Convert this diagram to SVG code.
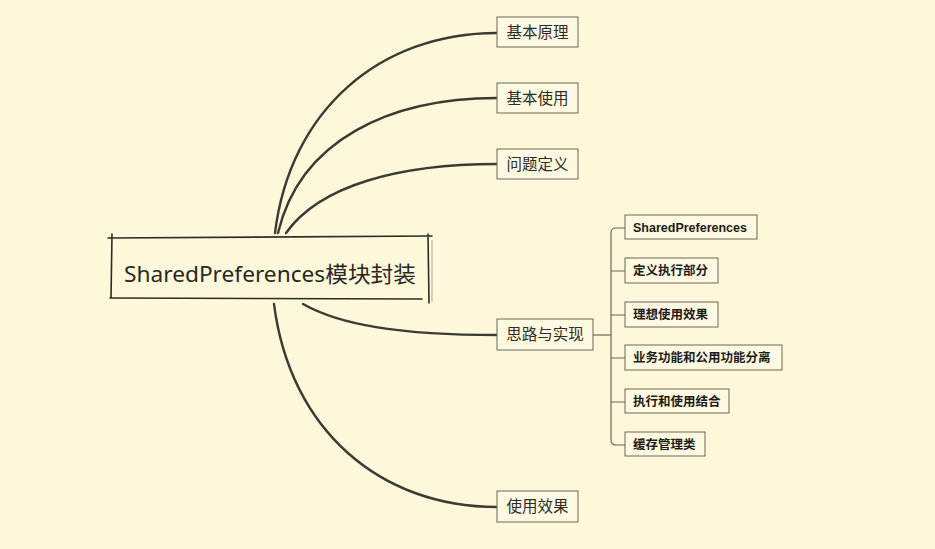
<svg xmlns="http://www.w3.org/2000/svg" width="935" height="549" viewBox="0 0 935 549">
<defs>
<style>
.bg{fill:#fef8db}
.main{fill:none;stroke:#3d3a34;stroke-width:2.4;stroke-linecap:round}
.sub{fill:none;stroke:#6e6650;stroke-width:1.2}
.box{fill:#fef9e0;stroke:#6b6654;stroke-width:1}
.shadow{fill:none;stroke:#c9c2a8;stroke-width:1.5}
.rootline{fill:none;stroke:#2e2b27;stroke-width:1.6;stroke-linecap:round}
.t1{font-family:"Noto Sans","Noto Sans CJK SC",sans-serif;font-size:15.5px;fill:#2f2c28;text-anchor:middle}
.t2{font-family:"Liberation Sans","Noto Sans CJK SC",sans-serif;font-size:12.5px;font-weight:bold;fill:#1e1c19}
.t0{font-family:"Noto Sans","Noto Sans CJK SC",sans-serif;font-size:22px;fill:#2a2723}
</style>
</defs>
<rect class="bg" x="0" y="0" width="935" height="549"/>
<g id="connectors">
<path class="main" d="M275,233 C290,110 380,33 497,33"/>
<path class="main" d="M278,233 C300,140 390,98 497,98"/>
<path class="main" d="M286,233 C320,185 400,164 497,164"/>
<path class="main" d="M303,304 C340,325 400,335 497,335"/>
<path class="main" d="M274,304 C290,430 380,507 497,507"/>
<path class="sub" d="M593,335 H611"/>
<path class="sub" d="M625,228 H616 Q611,228 611,233 V440 Q611,445 616,445 H625"/>
<path class="sub" d="M611,271 H625 M611,315 H625 M611,358 H625 M611,402 H625"/>
</g>
<g id="root">
<path class="rootline" d="M108,238 L432,236 M112,234 L111,298 M428,234 L429,303 M110,298 L422,299"/>
<path class="shadow" d="M432,240 L432,302"/>
<text class="t0" x="124" y="282" textLength="292" lengthAdjust="spacingAndGlyphs">SharedPreferences模块封装</text>
</g>
<g id="n1">
<rect class="box" x="497" y="17" width="81" height="30"/>
<text class="t1" x="537.5" y="38">基本原理</text>
</g>
<g id="n2">
<rect class="box" x="497" y="83" width="81" height="30"/>
<text class="t1" x="537.5" y="104">基本使用</text>
</g>
<g id="n3">
<rect class="box" x="497" y="149" width="81" height="30"/>
<text class="t1" x="537.5" y="170">问题定义</text>
</g>
<g id="n4">
<rect class="box" x="497" y="319" width="96" height="31"/>
<text class="t1" x="545" y="340">思路与实现</text>
</g>
<g id="n5">
<rect class="box" x="497" y="491" width="81" height="31"/>
<text class="t1" x="537.5" y="512">使用效果</text>
</g>
<g id="s1">
<rect class="box" x="625" y="215" width="132" height="24"/>
<text class="t2" x="633" y="232">SharedPreferences</text>
</g>
<g id="s2">
<rect class="box" x="625" y="258" width="93" height="25"/>
<text class="t2" x="633" y="275">定义执行部分</text>
</g>
<g id="s3">
<rect class="box" x="625" y="302" width="93" height="25"/>
<text class="t2" x="633" y="319">理想使用效果</text>
</g>
<g id="s4">
<rect class="box" x="625" y="345" width="157" height="25"/>
<text class="t2" x="633" y="362">业务功能和公用功能分离</text>
</g>
<g id="s5">
<rect class="box" x="625" y="389" width="104" height="24"/>
<text class="t2" x="633" y="406">执行和使用结合</text>
</g>
<g id="s6">
<rect class="box" x="625" y="432" width="80" height="24"/>
<text class="t2" x="633" y="449">缓存管理类</text>
</g>
</svg>
